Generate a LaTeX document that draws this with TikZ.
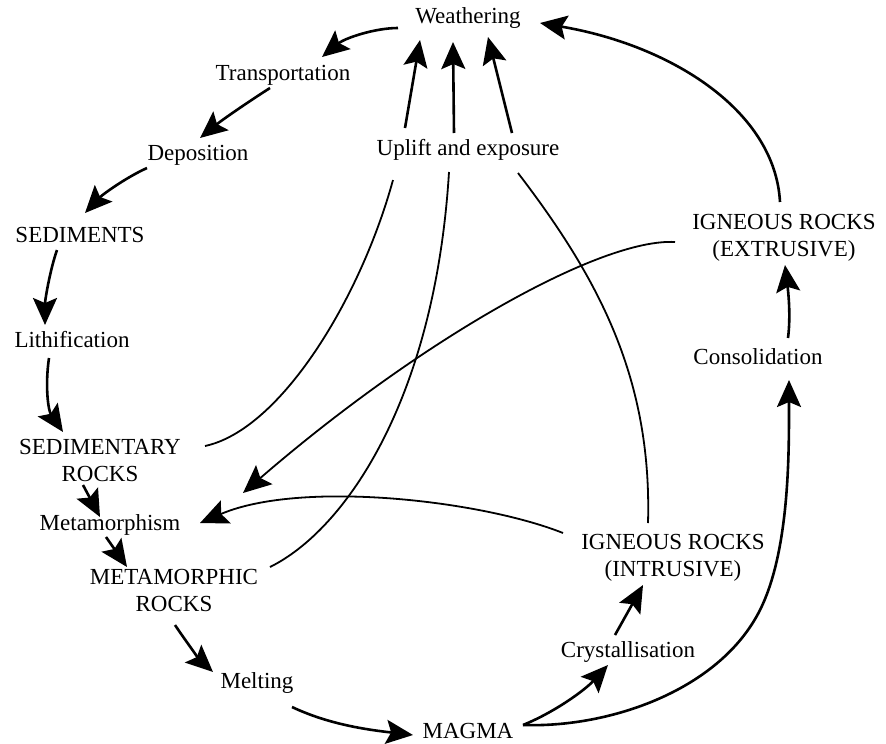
\documentclass[tikz,border=0pt]{standalone}
\usepackage{fontspec}
\setmainfont{Liberation Serif}
\usetikzlibrary{arrows.meta}
\begin{document}
\begin{tikzpicture}[x=1pt,y=-1pt,
 lbl/.style={font=\fontsize{23}{27}\selectfont, align=center, inner sep=0pt},
 flow/.style={line width=2.6pt, -{Stealth[length=27pt,width=24pt,inset=5pt]}},
 link/.style={line width=1.8pt},
 linkarr/.style={line width=1.8pt, -{Stealth[length=28pt,width=25pt,inset=5pt]}}]
\useasboundingbox (0,0) rectangle (886,744);
\node[lbl] (wea) at (468,18) {Weathering};
\node[lbl] (upl) at (468,150) {Uplift and exposure};
\node[lbl] (trans) at (283,75) {Transportation};
\node[lbl] (dep) at (198,155) {Deposition};
\node[lbl] (sed) at (80,235) {SEDIMENTS};
\node[lbl] (lith) at (72,340) {Lithification};
\node[lbl] (sedr) at (100,460) {SEDIMENTARY\\ROCKS};
\node[lbl] (meta) at (110,525) {Metamorphism};
\node[lbl] (metr) at (174,590) {METAMORPHIC\\ROCKS};
\node[lbl] (melt) at (257,683) {Melting};
\node[lbl] (mag) at (468,731) {MAGMA};
\node[lbl] (cry) at (628,652) {Crystallisation};
\node[lbl] (ign) at (673,558) {IGNEOUS ROCKS\\(INTRUSIVE)};
\node[lbl] (cons) at (758,357) {Consolidation};
\node[lbl] (ext) at (784,238) {IGNEOUS ROCKS\\(EXTRUSIVE)};
% main cycle
\draw[flow] ([shift={(-70,10)}]wea.center) .. controls (375,28) and (345,38) .. ([shift={(39,-18)}]trans.center);
\draw[flow] ([shift={(-13,13)}]trans.center) .. controls (248,102) and (222,120) .. ([shift={(2,-17)}]dep.center);
\draw[flow] ([shift={(-51,13)}]dep.center) .. controls (125,178) and (102,195) .. ([shift={(5,-22)}]sed.center);
\draw[flow] ([shift={(-23,15)}]sed.center) .. controls (50,270) and (45,300) .. ([shift={(-27,-15)}]lith.center);
\draw[flow] ([shift={(-23,18)}]lith.center) .. controls (45,385) and (48,410) .. ([shift={(-37,-28)}]sedr.center);
\draw[flow] ([shift={(-17,25)}]sedr.center) -- ([shift={(-10,-8)}]meta.center);
\draw[flow] ([shift={(-4,12)}]meta.center) -- ([shift={(-47,-23)}]metr.center);
\draw[flow] ([shift={(1,35)}]metr.center) .. controls (185,640) and (200,660) .. ([shift={(-44,-11)}]melt.center);
\draw[flow] ([shift={(35,24)}]melt.center) .. controls (330,725) and (370,730) .. ([shift={(-55,4)}]mag.center);
\draw[flow] ([shift={(55,-6)}]mag.center) .. controls (555,712) and (585,690) .. ([shift={(-20,13)}]cry.center);
\draw[flow] ([shift={(-13,-17)}]cry.center) -- ([shift={(-30,27)}]ign.center);
\draw[flow] ([shift={(55,-6)}]mag.center) .. controls (610,728) and (720,690) .. (760,610) .. controls (790,550) and (789,450) .. ([shift={(31,23)}]cons.center);
\draw[flow] ([shift={(30,-19)}]cons.center) .. controls (791,315) and (788,290) .. ([shift={(1,27)}]ext.center);
\draw[flow] ([shift={(-4,-36)}]ext.center) .. controls (775,110) and (670,45) .. ([shift={(72,5)}]wea.center);
% uplift to weathering
\draw[flow] ([shift={(-63,-22)}]upl.center) -- ([shift={(-48,22)}]wea.center);
\draw[flow] ([shift={(-14,-17)}]upl.center) -- ([shift={(-15,24)}]wea.center);
\draw[flow] ([shift={(44,-17)}]upl.center) -- ([shift={(20,19)}]wea.center);
% rocks to uplift
\draw[link] ([shift={(105,-14)}]sedr.center) .. controls (280,430) and (360,300) .. ([shift={(-75,30)}]upl.center);
\draw[link] ([shift={(96,-23)}]metr.center) .. controls (345,530) and (435,400) .. ([shift={(-19,22)}]upl.center);
\draw[link] ([shift={(-25,-35)}]ign.center) .. controls (652,380) and (600,280) .. ([shift={(50,23)}]upl.center);
% igneous to metamorphism
\draw[linkarr] ([shift={(-109,4)}]ext.center) .. controls (600,238) and (420,340) .. ([shift={(133,-32)}]meta.center);
\draw[linkarr] ([shift={(-110,-25)}]ign.center) .. controls (480,500) and (300,480) .. ([shift={(90,-2)}]meta.center);
\end{tikzpicture}
\end{document}
